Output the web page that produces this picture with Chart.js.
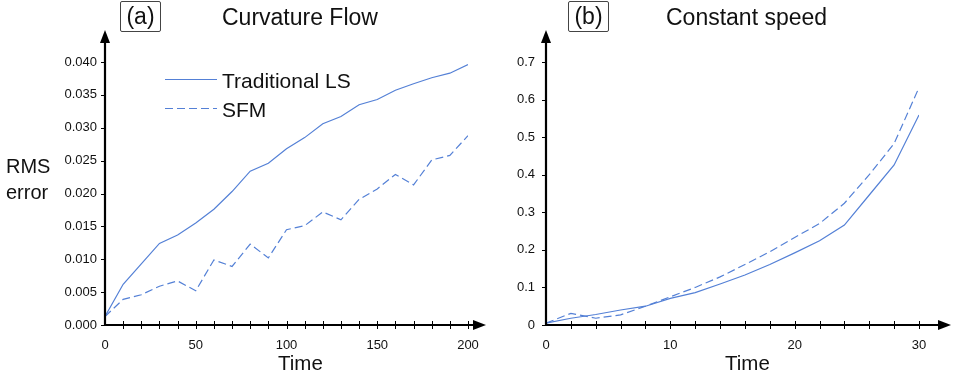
<!DOCTYPE html>
<html>
<head>
<meta charset="utf-8">
<script src="https://cdn.jsdelivr.net/npm/chart.js@4/dist/chart.umd.min.js"></script>
<style>
  body { margin: 0; background: #fff; font-family: "Liberation Sans", Arial, sans-serif; color: #111; }
  #page { position: relative; width: 954px; height: 379px; overflow: hidden; }
  .box { position: absolute; left: 0; top: 0; }
  .txt { position: absolute; white-space: nowrap; line-height: 1; }
  .tag { position: absolute; border: 1px solid #444; border-radius: 2px; box-sizing: border-box;
         font-size: 23px; line-height: 29px; text-align: center; }
</style>
</head>
<body>
<div id="page">
  <div class="box" style="left:0;width:495px;height:379px"><canvas id="chartA"></canvas></div>
  <div class="box" style="left:490px;width:464px;height:379px"><canvas id="chartB"></canvas></div>

  <div class="tag" style="left:120px;top:1px;width:41px;height:31px">(a)</div>
  <div class="txt" style="left:222px;top:5.5px;font-size:23px">Curvature Flow</div>
  <div class="tag" style="left:568px;top:1px;width:41px;height:31px">(b)</div>
  <div class="txt" style="left:666px;top:5.5px;font-size:23px">Constant speed</div>

  <div class="txt" style="left:6px;top:156px;font-size:20px">RMS</div>
  <div class="txt" style="left:6px;top:182px;font-size:20px">error</div>
  <div class="txt" style="left:278px;top:353px;font-size:20.5px">Time</div>
  <div class="txt" style="left:725px;top:352.5px;font-size:20.5px">Time</div>
</div>
<script>
// panel (a) curvature flow
const timeA = [0, 10, 20, 30, 40, 50, 60, 70, 80, 90, 100, 110, 120, 130, 140, 150, 160, 170, 180, 190, 200];
const lsA = [0.0013, 0.0062, 0.0093, 0.0124, 0.0137, 0.0155, 0.0176, 0.0203, 0.0234, 0.0246, 0.0268, 0.0285, 0.0306, 0.0317, 0.0335, 0.0343, 0.0357, 0.0367, 0.0376, 0.0383, 0.0396];
const sfmA = [0.0013, 0.0039, 0.0046, 0.0059, 0.0067, 0.0052, 0.0099, 0.0089, 0.0123, 0.0102, 0.0145, 0.0151, 0.0172, 0.0160, 0.0191, 0.0207, 0.0229, 0.0213, 0.0251, 0.0258, 0.0288];

// panel (b) constant speed
const timeB = [0, 2, 4, 6, 8, 10, 12, 14, 16, 18, 20, 22, 24, 26, 28, 30];
const lsB = [0.005, 0.018, 0.028, 0.040, 0.050, 0.071, 0.086, 0.109, 0.133, 0.161, 0.192, 0.224, 0.266, 0.346, 0.426, 0.559];
const sfmB = [0.005, 0.031, 0.018, 0.027, 0.050, 0.075, 0.100, 0.128, 0.161, 0.195, 0.233, 0.270, 0.324, 0.400, 0.483, 0.632];

const seriesNames = ['Traditional LS', 'SFM'];

const blue = 'rgb(84,128,214)';
const fontFam = '"Liberation Sans", Arial, sans-serif';

function pts(xs, ys) {
  return xs.map(function (x, i) { return { x: x, y: ys[i] }; });
}

// axis lines with arrows + tick marks + optional legend
const axesPlugin = {
  id: 'axesArrows',
  afterDraw(chart, args, opts) {
    const ctx = chart.ctx;
    const a = chart.chartArea;
    const xs = chart.scales.x, ys = chart.scales.y;
    ctx.save();
    ctx.strokeStyle = '#000';
    ctx.fillStyle = '#000';
    // tick marks
    ctx.lineWidth = 1;
    xs.ticks.forEach(function (t) {
      if (t.value === 0) return;
      const px = Math.round(xs.getPixelForValue(t.value)) + 0.5;
      ctx.beginPath(); ctx.moveTo(px, a.bottom - 4); ctx.lineTo(px, a.bottom + 4); ctx.stroke();
    });
    ys.ticks.forEach(function (t) {
      const py = Math.round(ys.getPixelForValue(t.value)) + 0.5;
      ctx.beginPath(); ctx.moveTo(a.left - 4, py); ctx.lineTo(a.left, py); ctx.stroke();
    });
    // axes
    const xTip = a.right + opts.xExt, yTip = a.top - opts.yExt;
    ctx.lineWidth = 2.2;
    ctx.beginPath();
    ctx.moveTo(a.left, a.bottom); ctx.lineTo(xTip - 8, a.bottom);
    ctx.moveTo(a.left, a.bottom + 1); ctx.lineTo(a.left, yTip + 8);
    ctx.stroke();
    ctx.beginPath();
    ctx.moveTo(xTip, a.bottom); ctx.lineTo(xTip - 13, a.bottom - 5); ctx.lineTo(xTip - 13, a.bottom + 5); ctx.closePath(); ctx.fill();
    ctx.beginPath();
    ctx.moveTo(a.left, yTip); ctx.lineTo(a.left - 5, yTip + 13); ctx.lineTo(a.left + 5, yTip + 13); ctx.closePath(); ctx.fill();
    // legend
    if (opts.legend) {
      const L = opts.legend;
      ctx.font = '21px ' + fontFam;
      chart.data.datasets.forEach(function (ds, i) {
        const y = L.y + i * L.gap;
        ctx.strokeStyle = ds.borderColor;
        ctx.lineWidth = 1.2;
        ctx.setLineDash(ds.borderDash || []);
        ctx.beginPath(); ctx.moveTo(L.x, y); ctx.lineTo(L.x + 52, y); ctx.stroke();
        ctx.setLineDash([]);
        ctx.fillStyle = '#111';
        ctx.textBaseline = 'alphabetic';
        ctx.fillText(ds.label, L.x + 57, y + 8);
      });
    }
    ctx.restore();
  }
};

function makeChart(id, xs, ys1, ys2, cfg) {
  return new Chart(document.getElementById(id), {
    type: 'line',
    data: {
      datasets: [
        { label: seriesNames[0], data: pts(xs, ys1), borderColor: blue, borderWidth: 1.2, pointRadius: 0, tension: 0 },
        { label: seriesNames[1], data: pts(xs, ys2), borderColor: blue, borderWidth: 1.2, borderDash: [8, 4], pointRadius: 0, tension: 0 }
      ]
    },
    options: {
      responsive: true,
      maintainAspectRatio: false,
      animation: false,
      layout: { padding: { top: 62, right: cfg.padRight, left: 0, bottom: 0 } },
      scales: {
        x: {
          type: 'linear',
          min: 0, max: cfg.xMax,
          grid: { display: false, drawTicks: false },
          border: { display: false },
          afterFit: function (s) { s.height = 54; },
          ticks: {
            stepSize: cfg.xStep, autoSkip: false, maxRotation: 0, padding: 13,
            color: '#111', font: { family: fontFam, size: 13 },
            callback: function (v) { return v % cfg.xLabelEvery === 0 ? String(v) : ''; }
          }
        },
        y: {
          min: 0, max: cfg.yMax,
          grid: { display: false, drawTicks: false },
          border: { display: false },
          afterFit: function (s) { s.width = cfg.yWidth; },
          ticks: {
            stepSize: cfg.yStep, padding: cfg.yPad,
            color: '#111', font: { family: fontFam, size: 13 },
            callback: cfg.yFmt
          }
        }
      },
      plugins: {
        legend: { display: false },
        tooltip: { enabled: false },
        axesArrows: { xExt: cfg.xExt, yExt: 32, legend: cfg.legend }
      }
    },
    plugins: [axesPlugin]
  });
}

makeChart('chartA', timeA, lsA, sfmA, {
  xMax: 200, xStep: 10, xLabelEvery: 50, yMax: 0.04, yStep: 0.005, yWidth: 105, yPad: 8, padRight: 27, xExt: 18,
  yFmt: function (v) { return v.toFixed(3); },
  legend: { x: 165, y: 79.5, gap: 29 }
});

makeChart('chartB', timeB, lsB, sfmB, {
  xMax: 30, xStep: 2, xLabelEvery: 10, yMax: 0.7, yStep: 0.1, yWidth: 56, yPad: 11, padRight: 35, xExt: 32,
  yFmt: function (v) { return v === 0 ? '0' : v.toFixed(1); },
  legend: null
});
</script>
</body>
</html>
